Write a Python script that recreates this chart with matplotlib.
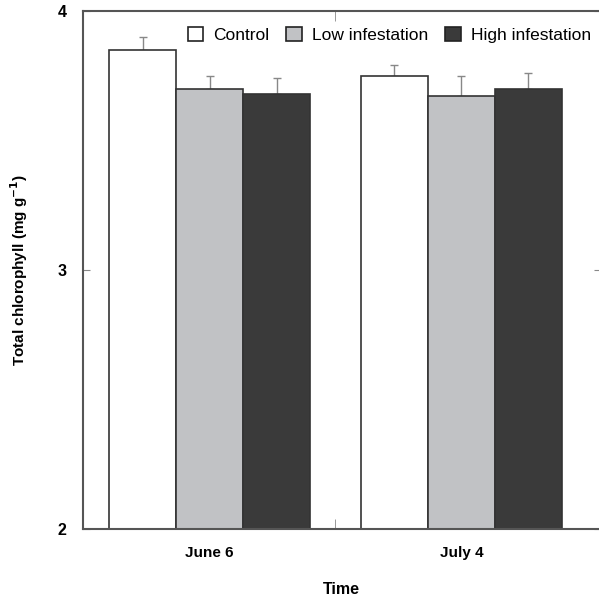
import matplotlib
matplotlib.use("Agg")
import matplotlib.pyplot as plt
import numpy as np

plt.rcParams['font.family'] = ['Liberation Sans', 'DejaVu Sans']

dates = ["June 6", "July 4"]
treatments = ["Control", "Low infestation", "High infestation"]
means = {
    "Control": [3.85, 3.75],
    "Low infestation": [3.70, 3.67],
    "High infestation": [3.68, 3.70],
}
errors = {
    "Control": [0.05, 0.04],
    "Low infestation": [0.05, 0.08],
    "High infestation": [0.06, 0.06],
}
fills = {"Control": "white", "Low infestation": "#c1c2c5", "High infestation": "#3a3a3a"}

fig = plt.figure(figsize=(5.99, 5.98), dpi=100)
ax = fig.add_axes([0.1386, 0.1154, 0.864, 0.8662])

x = np.arange(len(dates))
width = 0.266
for i, t in enumerate(treatments):
    pos = x + (i - 1) * width
    ax.bar(pos, means[t], width, bottom=0, color=fills[t], edgecolor="#333333",
           linewidth=1.2, label=t, zorder=2)
    ax.errorbar(pos, means[t], yerr=[np.zeros(len(dates)), errors[t]], fmt="none",
                ecolor="#888888", elinewidth=1.0, capsize=3, capthick=1.0, zorder=1)

ax.set_ylim(2, 4)
ax.set_xlim(-0.503, 1.553)
ax.set_yticks([2, 3, 4])
ax.set_yticklabels(["2", "3", "4"], fontweight="bold", fontsize=11.5)
ax.set_xticks(x)
ax.set_xticklabels(dates, fontweight="bold", fontsize=11)
ax.tick_params(axis="x", length=0, pad=12)
ax.tick_params(axis="y", direction="in", length=5, color="#888888", pad=12,
               right=True)
ax.set_xticks([0.5], minor=True)
ax.tick_params(axis="x", which="minor", direction="in", length=7,
               color="#888888", top=True, bottom=True)

for s in ax.spines.values():
    s.set_color("#555555")
    s.set_linewidth(1.5)

ax.set_xlabel("Time", fontweight="bold", fontsize=11.5, labelpad=16)
ax.set_ylabel("Total chlorophyll (mg g$^{\\mathbf{-1}}$)", fontweight="bold",
              fontsize=11, labelpad=20)

leg = ax.legend(ncol=3, frameon=False, loc="upper right",
                bbox_to_anchor=(1.012, 1.0), handlelength=0.9, handleheight=0.9,
                handletextpad=0.6, columnspacing=0.95, fontsize=12.5)
for h in leg.legend_handles:
    h.set_edgecolor("#222222")
    h.set_linewidth(1.2)

fig.savefig("out.png", dpi=100)
